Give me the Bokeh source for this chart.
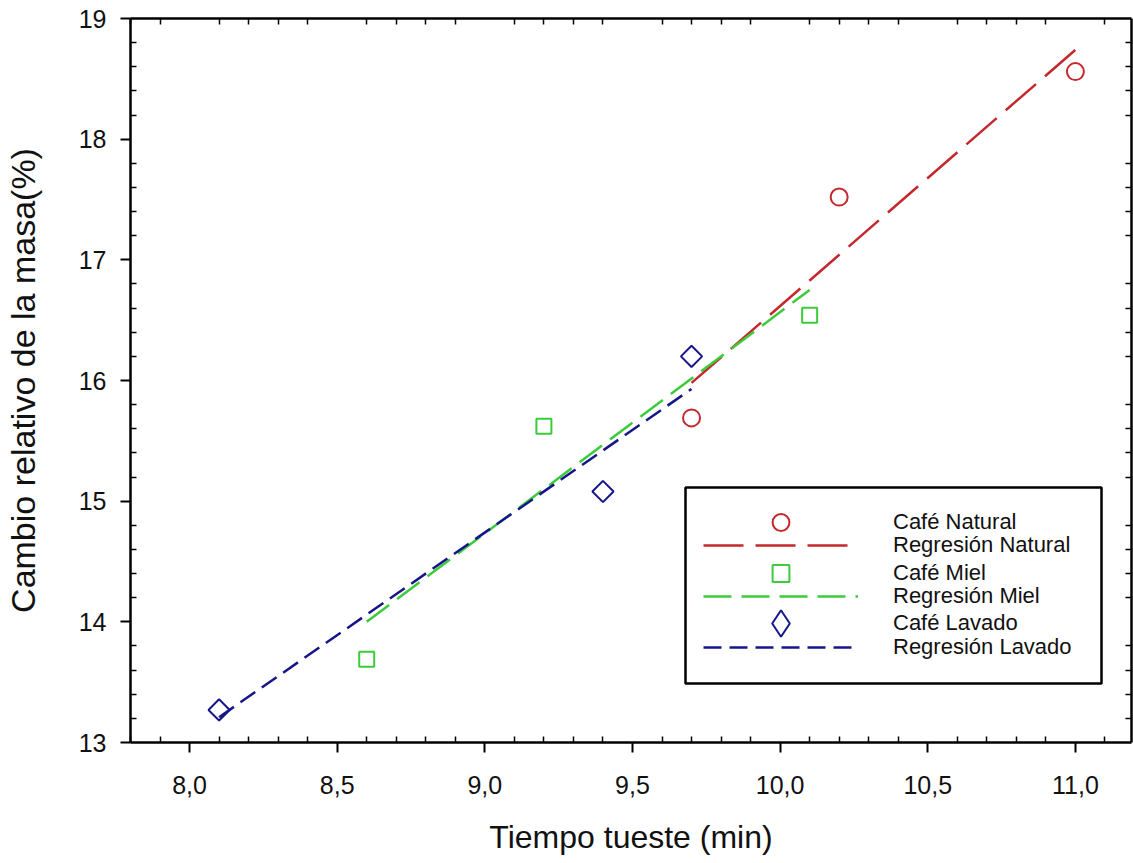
from bokeh.plotting import figure
from bokeh.models import (Range1d, LinearAxis, FixedTicker, Legend, LegendItem,
                          BoxAnnotation)
from bokeh.embed import file_html
from bokeh.resources import INLINE
import numpy as np

# ---- data ----
natural_x = [9.7, 10.2, 11.0]
natural_y = [15.69, 17.52, 18.56]
miel_x = [8.6, 9.2, 10.1]
miel_y = [13.69, 15.62, 16.54]
lavado_x = [8.1, 9.4, 9.7]
lavado_y = [13.27, 15.08, 16.20]

reg_natural_x = [9.7, 11.0]
reg_natural_y = [15.98, 18.74]
reg_miel_x = [8.6, 10.1]
reg_miel_y = [14.00, 16.75]
reg_lavado_x = [8.1, 9.7]
reg_lavado_y = [13.21, 15.93]

x_ticks = [8.0, 8.5, 9.0, 9.5, 10.0, 10.5, 11.0]
x_tick_labels = ["8,0", "8,5", "9,0", "9,5", "10,0", "10,5", "11,0"]
y_ticks = [13, 14, 15, 16, 17, 18, 19]
y_tick_labels = ["13", "14", "15", "16", "17", "18", "19"]

x_label = "Tiempo tueste (min)"
y_label = "Cambio relativo de la masa(%)"
names = ["Café Natural", "Regresión Natural", "Café Miel", "Regresión Miel",
         "Café Lavado", "Regresión Lavado"]

RED = "#C4282D"
GREEN = "#3CCB3C"
BLUE = "#16168A"
FONT = "Liberation Sans"

x_minor = [round(v, 1) for v in np.arange(7.8, 11.21, 0.1) if round(v, 1) not in x_ticks]
y_minor = [round(v, 1) for v in np.arange(13.0, 19.01, 0.2) if round(v, 1) not in y_ticks]

p = figure(width=1133, height=863, output_backend="svg", toolbar_location=None,
           x_range=Range1d(7.8, 11.19), y_range=Range1d(13, 19),
           x_axis_location=None, y_axis_location=None,
           min_border_left=127, min_border_right=2, min_border_top=18,
           min_border_bottom=121)
p.grid.visible = False
p.outline_line_color = None
p.background_fill_color = "white"
p.border_fill_color = "white"


def style_main(ax, ticks, labels, minor):
    ax.ticker = FixedTicker(ticks=ticks, minor_ticks=minor)
    ax.major_label_overrides = {t: l for t, l in zip(ticks, labels)}
    ax.axis_line_width = 2.5
    ax.axis_line_color = "black"
    ax.major_tick_line_width = 2
    ax.major_tick_out = 10
    ax.major_tick_in = 0
    ax.minor_tick_line_width = 1.5
    ax.minor_tick_in = 6
    ax.minor_tick_out = 0
    ax.major_label_text_font = FONT
    ax.major_label_text_font_size = "25px"
    ax.major_label_text_color = "#111111"
    ax.axis_label_text_font = FONT
    ax.axis_label_text_font_style = "normal"
    ax.axis_label_text_color = "#111111"


def style_frame(ax, ticks, minor):
    ax.ticker = FixedTicker(ticks=ticks, minor_ticks=minor)
    ax.axis_line_width = 2.5
    ax.axis_line_color = "black"
    ax.major_tick_in = 0
    ax.major_tick_out = 0
    ax.minor_tick_in = 6
    ax.minor_tick_out = 0
    ax.minor_tick_line_width = 1.5
    ax.major_label_text_font_size = "0px"
    ax.major_label_standoff = 0
    ax.major_label_text_alpha = 0


xb = LinearAxis(axis_label=x_label)
style_main(xb, x_ticks, x_tick_labels, x_minor)
xb.axis_label_text_font_size = "32px"
xb.major_label_standoff = 23
xb.axis_label_standoff = 22
p.add_layout(xb, "below")

yl = LinearAxis(axis_label=y_label)
style_main(yl, y_ticks, y_tick_labels, y_minor)
yl.axis_label_text_font_size = "34px"
yl.major_label_standoff = 14
yl.axis_label_standoff = 34
p.add_layout(yl, "left")

xt = LinearAxis()
style_frame(xt, x_ticks, x_minor)
p.add_layout(xt, "above")

yr = LinearAxis()
style_frame(yr, y_ticks, y_minor)
p.add_layout(yr, "right")

# regression lines
r_rn = p.line(reg_natural_x, reg_natural_y, line_color=RED, line_width=2.5, line_dash="40 12")
r_rm = p.line(reg_miel_x, reg_miel_y, line_color=GREEN, line_width=2.5, line_dash="28 10")
r_rl = p.line(reg_lavado_x, reg_lavado_y, line_color=BLUE, line_width=2.5, line_dash="18 8")

# points
r_n = p.scatter(natural_x, natural_y, marker="circle", size=17, fill_color=None,
                line_color=RED, line_width=2)
r_m = p.scatter(miel_x, miel_y, marker="square", size=15, fill_color=None,
                line_color=GREEN, line_width=2)
r_l = p.scatter(lavado_x, lavado_y, marker="square", angle=np.pi / 4, size=15,
                fill_color=None, line_color=BLUE, line_width=2)
# legend-only key glyph for the diamond symbol (a single NaN row: nothing drawn on the plot)
r_l_key = p.scatter(x=[np.nan], y=[np.nan], marker="diamond", size=15, fill_color=None,
                    line_color=BLUE, line_width=2)

# legend frame
box = BoxAnnotation(left=555, right=971, bottom=59, top=255,
                    left_units="screen", right_units="screen",
                    top_units="screen", bottom_units="screen",
                    fill_color="white", fill_alpha=1,
                    line_color="black", line_alpha=1, line_width=2.5)
p.add_layout(box)


def make_legend(items, loc, gh, spacing):
    lg = Legend(items=items, location=loc, orientation="vertical")
    lg.glyph_width = 155
    lg.glyph_height = gh
    lg.label_height = gh
    lg.spacing = spacing
    lg.padding = 0
    lg.margin = 0
    lg.label_standoff = 35
    lg.label_text_font = FONT
    lg.label_text_font_size = "22px"
    lg.label_text_color = "#111111"
    lg.border_line_color = None
    lg.background_fill_alpha = 0
    return lg


leg_marks = make_legend([LegendItem(label=names[0], renderers=[r_n]),
                         LegendItem(label=names[2], renderers=[r_m])],
                        (573, 148), 42, 9)
leg_diam = make_legend([LegendItem(label=names[4], renderers=[r_l_key], index=0)],
                       (573, 86), 66, 0)
leg_lines = make_legend([LegendItem(label=names[1], renderers=[r_rn]),
                         LegendItem(label=names[3], renderers=[r_rm]),
                         LegendItem(label=names[5], renderers=[r_rl])],
                        (573, 74), 42, 9)
p.add_layout(leg_marks, "center")
p.add_layout(leg_diam, "center")
p.add_layout(leg_lines, "center")

open("out.html", "w").write(file_html(p, INLINE))
